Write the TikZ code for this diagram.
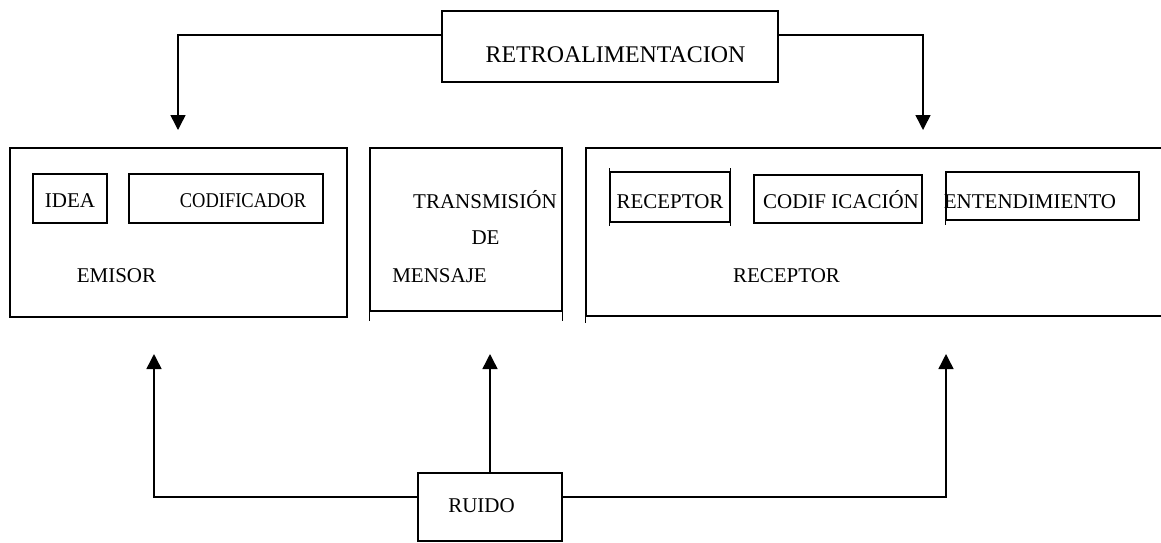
\documentclass[tikz,border=0pt]{standalone}
\usepackage{fontspec}
\setmainfont{Liberation Serif}
\usetikzlibrary{arrows.meta}

\begin{document}
\begin{tikzpicture}[x=1pt, y=-1pt,
	box_style/.style={rectangle, draw=black, line width=1.4pt, inner sep=0pt},
	text_style/.style={inner sep=0pt, anchor=base, font=\fontsize{21}{25}\selectfont},
	arrow_style/.style={line width=1.5pt, -{Triangle[length=15pt, width=15pt]}},
	]

\useasboundingbox (0,0) rectangle (1161,542);
\clip (0,0) rectangle (1161,542);

% feedback box on top
\node[box_style, minimum width=336pt, minimum height=71pt] at (610,46.5) (retro) {};
\node[text_style, font=\fontsize{23.9}{28}\selectfont] at (615.5,62) (retro_txt) {RETROALIMENTACION};

% sender
\node[box_style, minimum width=337pt, minimum height=169pt] at (178.5,232.5) (emisor) {};
\node[box_style, minimum width=74pt, minimum height=49pt] at (70,198.5) (idea) {};
\node[box_style, minimum width=194pt, minimum height=49pt] at (226,198.5) (codificador) {};
\node[text_style] at (70,207) (idea_txt) {IDEA};
\node[text_style] at (243,207) (codificador_txt) {\scalebox{0.88}[1]{CODIFICADOR}};
\node[text_style] at (116.5,282) (emisor_txt) {EMISOR};

% message
\node[box_style, minimum width=192pt, minimum height=163pt] at (466,229.5) (mensaje) {};
\draw[line width=1.4pt] (mensaje.south west) -- ++(0,9) (mensaje.south east) -- ++(0,9);
\node[text_style] at (485,208) (transmision_txt) {TRANSMISIÓN};
\node[text_style] at (485.5,244) (de_txt) {DE};
\node[text_style] at (439.5,282) (mensaje_txt) {MENSAJE};

% receiver
\node[box_style, minimum width=589pt, minimum height=168pt] at (880.5,232) (receptor) {};
\draw[line width=1.4pt] (receptor.south west) -- ++(0,6);
\node[box_style, minimum width=120pt, minimum height=50pt] at (670,197) (rec) {};
\draw[line width=1.4pt] ([yshift=3pt]rec.north west) -- ([yshift=-3pt]rec.south west)
	([yshift=3pt]rec.north east) -- ([yshift=-3pt]rec.south east);
\node[box_style, minimum width=168pt, minimum height=48pt] at (838,199) (decod) {};
\node[box_style, minimum width=193pt, minimum height=48pt] at (1042.5,196) (entend) {};
\draw[line width=1.4pt] (entend.south west) -- ++(0,4);
\node[text_style] at (670,208) (rec_txt) {RECEPTOR};
\node[text_style] at (841,208) (decod_txt) {CODIF ICACIÓN};
\node[text_style] at (1030,208) (entend_txt) {ENTENDIMIENTO};
\node[text_style] at (786.5,282) (receptor_txt) {RECEPTOR};

% noise
\node[box_style, minimum width=144pt, minimum height=68pt] at (490,507) (ruido) {};
\node[text_style] at (481.5,512) (ruido_txt) {RUIDO};

% arrow ends
\coordinate (fb_left) at (178,130);
\coordinate (fb_right) at (923,130);
\coordinate (nz_left) at (154,354);
\coordinate (nz_mid) at (490,354);
\coordinate (nz_right) at (946,354);

\draw[arrow_style] ([yshift=11.5pt]retro.west) -| (fb_left);
\draw[arrow_style] ([yshift=11.5pt]retro.east) -| (fb_right);
\draw[arrow_style] ([yshift=10pt]ruido.west) -| (nz_left);
\draw[arrow_style] (ruido.north) -- (nz_mid);
\draw[arrow_style] ([yshift=10pt]ruido.east) -| (nz_right);

\end{tikzpicture}
\end{document}
